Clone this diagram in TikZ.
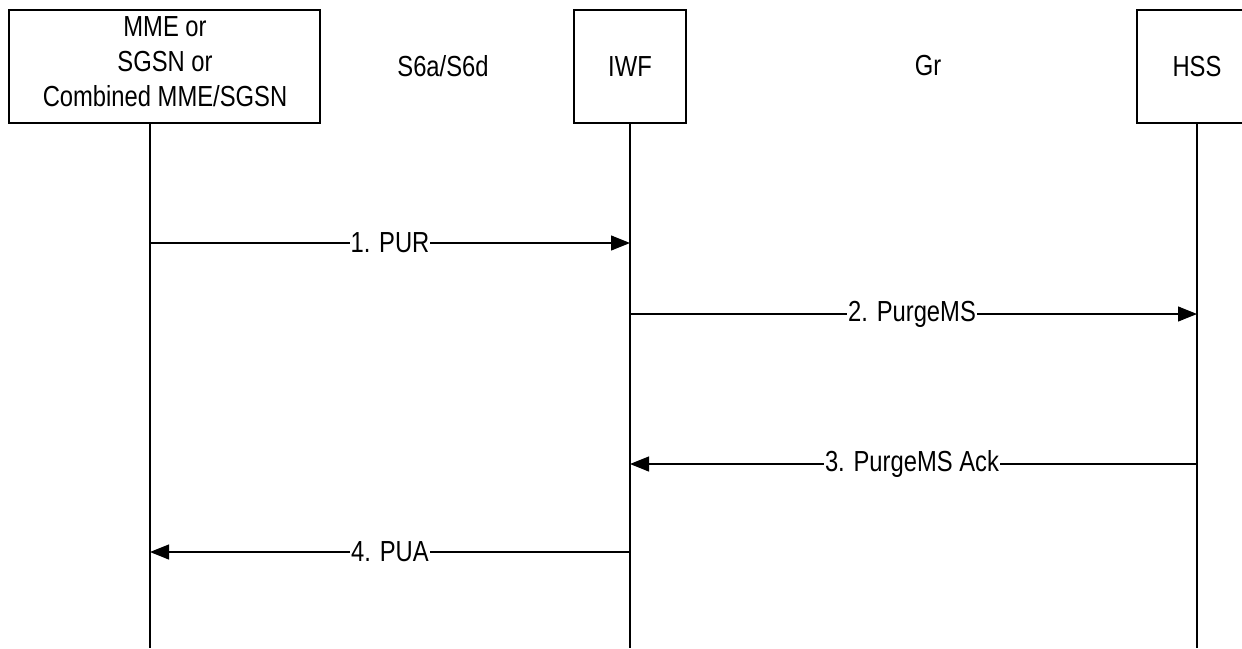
\documentclass[tikz,border=0pt]{standalone}
\usepackage{fontspec}
\setmainfont{Liberation Sans}[FakeStretch=0.82]
\usetikzlibrary{arrows.meta}
\begin{document}
\begin{tikzpicture}[x=1pt,y=-1pt,
  every node/.style={font=\fontsize{29}{35}\selectfont, inner sep=0pt},
  entity/.style={draw, line width=1.2pt, minimum height=113pt, align=center},
  life/.style={line width=1.2pt},
  msg/.style={line width=1.2pt, -{Triangle[length=19pt,width=15pt]}},
  lbl/.style={fill=white, inner xsep=1pt, inner ysep=2pt}]
\useasboundingbox (0,0) rectangle (1242,648);
\clip (0,0) rectangle (1242,648);
\node[entity, minimum width=311pt] (mme) at (164.5,66.5) {};
\node[align=center] (mmetext) at (165,62) {MME or\\SGSN or\\Combined MME/SGSN};
\node[entity, minimum width=112pt] (iwf) at (630,66.5) {IWF};
\node[entity, minimum width=120pt] (hss) at (1197,66.5) {HSS};
\node (s6) at (443,66) {S6a/S6d};
\node (gr) at (928,66) {Gr};
\coordinate (mmeT) at (150,123);
\coordinate (mmeB) at (150,648);
\coordinate (iwfB) at (630,648);
\coordinate (hssB) at (1197,648);
\draw[life] (mmeT) -- (mmeB);
\draw[life] (iwf.south) -- (iwfB);
\draw[life] (hss.south) -- (hssB);
\coordinate (m1) at (0,243);
\coordinate (m2) at (0,314);
\coordinate (m3) at (0,464);
\coordinate (m4) at (0,552);
\draw[msg] (mmeT |- m1) -- (iwfB |- m1);
\node[lbl] (l1) at (390,243) {1. PUR};
\draw[msg] (iwfB |- m2) -- (hssB |- m2);
\node[lbl] (l2) at (912,314) {2. PurgeMS};
\draw[msg] (hssB |- m3) -- (iwfB |- m3);
\node[lbl] (l3) at (912,464) {3. PurgeMS Ack};
\draw[msg] (iwfB |- m4) -- (mmeT |- m4);
\node[lbl] (l4) at (390,552) {4. PUA};
\end{tikzpicture}
\end{document}
